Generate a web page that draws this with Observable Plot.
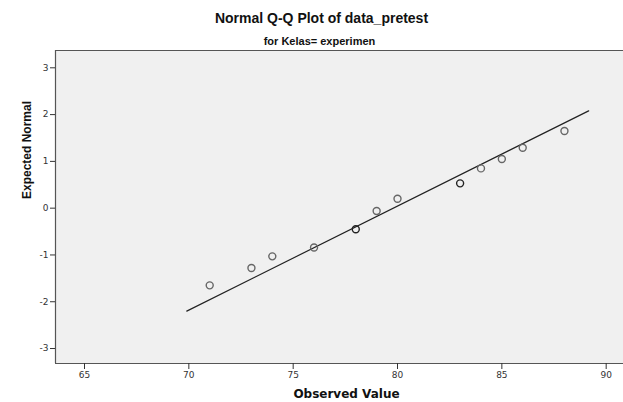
<!DOCTYPE html>
<html>
<head>
<meta charset="utf-8">
<script src="https://cdn.jsdelivr.net/npm/d3@7"></script>
<script src="https://cdn.jsdelivr.net/npm/@observablehq/plot@0.6"></script>
<style>
  html, body { margin: 0; padding: 0; background: #fff; overflow: hidden; }
  #wrap { position: relative; width: 623px; height: 402px; font-family: "Liberation Sans", Arial, sans-serif; }
  #title { position: absolute; left: 0; top: 10px; width: 623px; padding-left: 20px; box-sizing: border-box; text-align: center; font-weight: bold; font-size: 14px; line-height: 16px; color: #111; }
  #subtitle { position: absolute; left: 0; top: 35px; width: 623px; padding-left: 16px; box-sizing: border-box; text-align: center; font-weight: bold; font-size: 11px; line-height: 13px; color: #111; }
  #chart { position: absolute; left: 0; top: 48px; }
  #chart svg { display: block; overflow: hidden; }
  #chart g[aria-label="x-axis tick label"], #chart g[aria-label="y-axis tick label"] { font-family: "DejaVu Sans", sans-serif; font-size: 9px; fill: #333; }
</style>
</head>
<body>
<div id="wrap">
  <div id="title">Normal Q-Q Plot of data_pretest</div>
  <div id="subtitle">for Kelas= experimen</div>
  <div id="chart"></div>
</div>
<script>
const observed = [71, 73, 74, 76, 78, 79, 80, 83, 84, 85, 86, 88];
const expected = [-1.65, -1.28, -1.03, -0.84, -0.45, -0.06, 0.20, 0.53, 0.85, 1.05, 1.29, 1.65];
const tieCount = [1, 1, 1, 1, 2, 1, 1, 2, 1, 1, 1, 1];

// Reference line endpoints
const lineObserved = [69.9, 89.16];
const lineExpected = [-2.20, 2.08];

// Axis domains, ticks and titles
const xDomain = [63.61, 90.83];
const yDomain = [-3.32, 3.37];
const xTicks = [65, 70, 75, 80, 85, 90];
const yTicks = [-3, -2, -1, 0, 1, 2, 3];
const xTitle = ["Observed Value"];
const yTitle = ["Expected Normal"];

const points = observed.map((x, i) => ({x, y: expected[i], n: tieCount[i]}));
const refLine = lineObserved.map((x, i) => ({x, y: lineExpected[i]}));

const chart = Plot.plot({
  width: 623,
  height: 354,
  marginLeft: 55,
  marginRight: 0,
  marginTop: 2,
  marginBottom: 39,
  style: {background: "transparent", overflow: "hidden"},
  x: {domain: xDomain},
  y: {domain: yDomain},
  marks: [
    Plot.frame({fill: "#f0f0f0", stroke: "none"}),
    Plot.ruleX([xDomain[0]], {stroke: "#555", strokeWidth: 1.2}),
    Plot.ruleY([yDomain[0]], {stroke: "#555", strokeWidth: 1.2}),
    Plot.ruleY([yDomain[1]], {stroke: "#555", strokeWidth: 1.2}),
    Plot.axisX({ticks: xTicks, tickSize: 6, tickPadding: 2, stroke: "#333",
      tickFormat: d => String(d), label: null}),
    Plot.axisY({ticks: yTicks, tickSize: 5, tickPadding: 2, stroke: "#333",
      tickFormat: d => String(d), label: null}),
    Plot.text(xTitle, {frameAnchor: "bottom", text: d => d, dy: 31, dx: 7, lineAnchor: "middle",
      fontFamily: "DejaVu Sans", fontWeight: "bold", fontSize: 12, fill: "#111"}),
    Plot.text(yTitle, {frameAnchor: "left", text: d => d, rotate: -90, dx: -28, dy: -8,
      fontFamily: "Liberation Sans", fontWeight: "bold", fontSize: 12, fill: "#111"}),
    Plot.line(refLine, {x: "x", y: "y", stroke: "#222", strokeWidth: 1.2}),
    Plot.dot(points, {x: "x", y: "y", r: 3.5, fill: "none",
      stroke: d => d.n > 1 ? "#222" : "#666", strokeWidth: 1.4})
  ]
});
document.getElementById("chart").appendChild(chart);
</script>
</body>
</html>
